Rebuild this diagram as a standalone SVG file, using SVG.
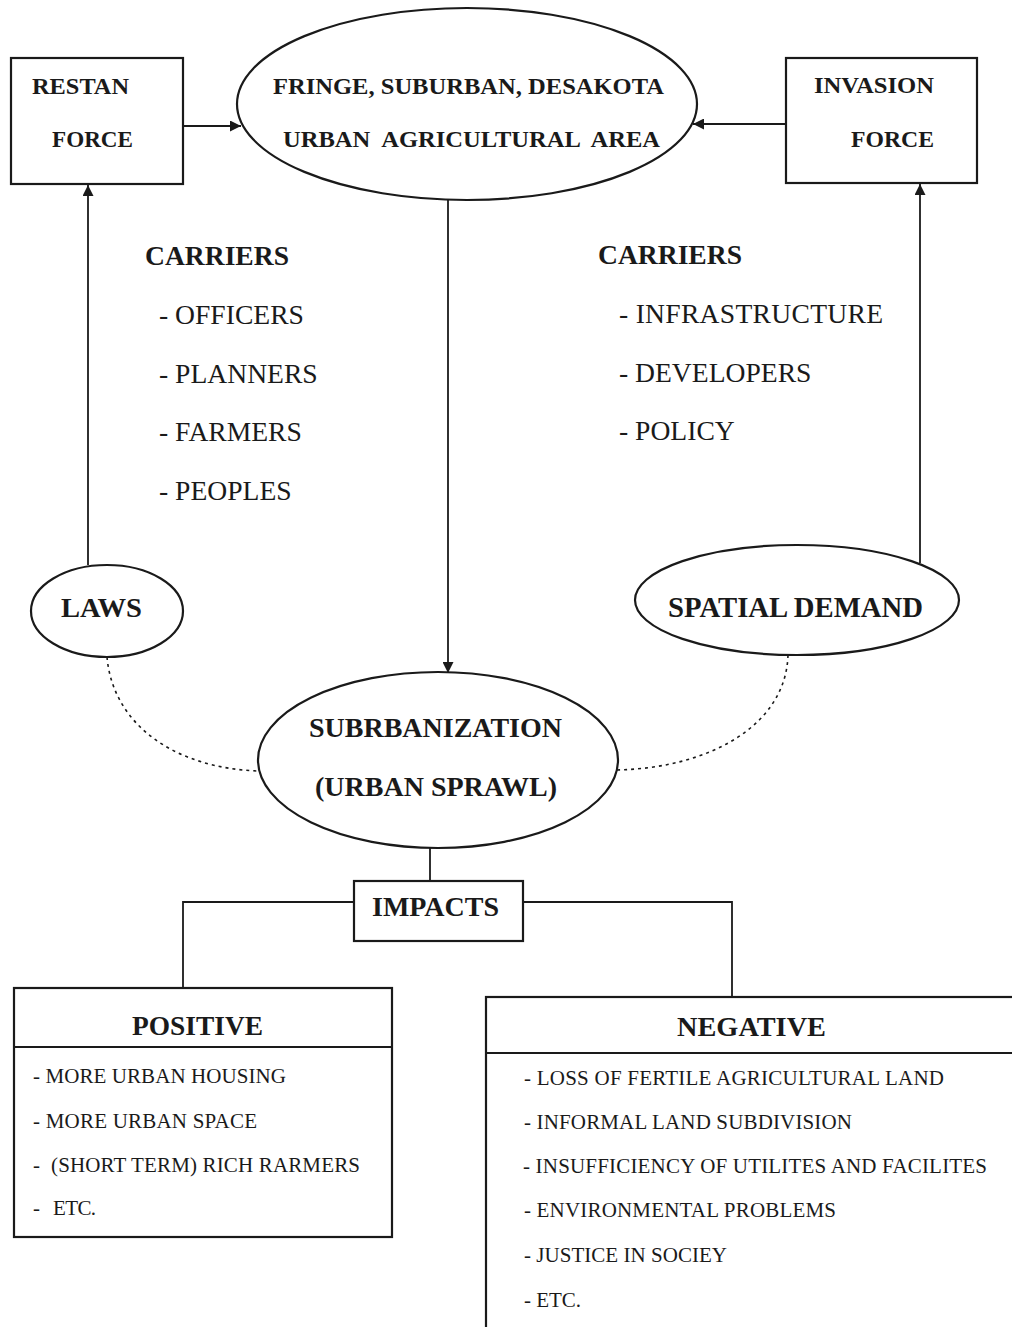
<svg xmlns="http://www.w3.org/2000/svg" width="1012" height="1327" viewBox="0 0 1012 1327">
<defs>
<style>
.shape{fill:#fff;stroke:#1a1a1a;stroke-width:2.2}
.ln{fill:none;stroke:#1a1a1a;stroke-width:1.8}
.dot{fill:none;stroke:#1a1a1a;stroke-width:1.6;stroke-dasharray:3 4}
.b{font-family:"Liberation Serif","Times New Roman",serif;font-weight:bold;fill:#1a1a1a}
.r{font-family:"Liberation Serif","Times New Roman",serif;fill:#1a1a1a}
</style>
<marker id="ah" viewBox="0 0 10 10" refX="10" refY="5" markerWidth="14" markerHeight="11" markerUnits="userSpaceOnUse" orient="auto">
<path d="M0,0 L10,5 L0,10 Z" fill="#1a1a1a"/>
</marker>
</defs>
<rect width="1012" height="1327" fill="#fff"/>

<g id="connectors">
<line class="ln" x1="183" y1="126" x2="241" y2="126" marker-end="url(#ah)"/>
<line class="ln" x1="786" y1="124" x2="693" y2="124" marker-end="url(#ah)"/>
<line class="ln" x1="88" y1="565" x2="88" y2="185" marker-end="url(#ah)"/>
<line class="ln" x1="920" y1="563" x2="920" y2="184" marker-end="url(#ah)"/>
<line class="ln" x1="448" y1="200" x2="448" y2="673" marker-end="url(#ah)"/>
<path class="dot" d="M107,657 C113,725 175,768 258,771"/>
<path class="dot" d="M788,655 C786,725 710,768 617,770"/>
<line class="ln" x1="430" y1="848" x2="430" y2="881"/>
<polyline class="ln" points="354,902 183,902 183,996"/>
<polyline class="ln" points="523,902 732,902 732,1000"/>
</g>

<g id="restan">
<rect class="shape" x="11" y="58" width="172" height="126"/>
<text class="b" x="32" y="94" font-size="24" textLength="97" lengthAdjust="spacingAndGlyphs">RESTAN</text>
<text class="b" x="52" y="147" font-size="24" textLength="81" lengthAdjust="spacingAndGlyphs">FORCE</text>
</g>

<g id="fringe">
<ellipse class="shape" cx="467" cy="104" rx="230" ry="96"/>
<text class="b" x="273" y="94" font-size="24" textLength="391" lengthAdjust="spacingAndGlyphs">FRINGE, SUBURBAN, DESAKOTA</text>
<text class="b" x="283" y="147" font-size="24" textLength="377" lengthAdjust="spacingAndGlyphs" xml:space="preserve">URBAN  AGRICULTURAL  AREA</text>
</g>

<g id="invasion">
<rect class="shape" x="786" y="58" width="191" height="125"/>
<text class="b" x="814" y="93" font-size="24" textLength="120" lengthAdjust="spacingAndGlyphs">INVASION</text>
<text class="b" x="851" y="147" font-size="24" textLength="83" lengthAdjust="spacingAndGlyphs">FORCE</text>
</g>

<g id="carriers-left">
<text class="b" x="145" y="265" font-size="27.6" textLength="144" lengthAdjust="spacingAndGlyphs">CARRIERS</text>
<text class="r" x="159" y="324" font-size="27.6">- OFFICERS</text>
<text class="r" x="159" y="383" font-size="27.6">- PLANNERS</text>
<text class="r" x="159" y="441" font-size="27.6">- FARMERS</text>
<text class="r" x="159" y="500" font-size="27.6">- PEOPLES</text>
</g>

<g id="carriers-right">
<text class="b" x="598" y="264" font-size="27.6" textLength="144" lengthAdjust="spacingAndGlyphs">CARRIERS</text>
<text class="r" x="619" y="323" font-size="27.6" textLength="264">- INFRASTRUCTURE</text>
<text class="r" x="619" y="382" font-size="27.6">- DEVELOPERS</text>
<text class="r" x="619" y="440" font-size="27.6">- POLICY</text>
</g>

<g id="laws">
<ellipse class="shape" cx="107" cy="611" rx="76" ry="46"/>
<text class="b" x="61" y="617" font-size="28" textLength="81" lengthAdjust="spacingAndGlyphs">LAWS</text>
</g>

<g id="spatial-demand">
<ellipse class="shape" cx="797" cy="600" rx="162" ry="55"/>
<text class="b" x="668" y="617" font-size="28.5" textLength="255" lengthAdjust="spacingAndGlyphs">SPATIAL DEMAND</text>
</g>

<g id="suburbanization">
<ellipse class="shape" cx="438" cy="760" rx="180" ry="88"/>
<text class="b" x="309" y="737" font-size="28" textLength="253" lengthAdjust="spacingAndGlyphs">SUBRBANIZATION</text>
<text class="b" x="315" y="796" font-size="28" textLength="242" lengthAdjust="spacingAndGlyphs">(URBAN SPRAWL)</text>
</g>

<g id="impacts">
<rect class="shape" x="354" y="881" width="169" height="60"/>
<text class="b" x="372" y="916" font-size="28" textLength="127" lengthAdjust="spacingAndGlyphs">IMPACTS</text>
</g>

<g id="positive">
<rect class="shape" x="14" y="988" width="378" height="249"/>
<line class="ln" x1="14" y1="1047" x2="392" y2="1047" stroke-width="2.4"/>
<text class="b" x="132" y="1035" font-size="28" textLength="131" lengthAdjust="spacingAndGlyphs">POSITIVE</text>
<text class="r" x="33" y="1083" font-size="21" textLength="253">- MORE URBAN HOUSING</text>
<text class="r" x="33" y="1128" font-size="21" textLength="224">- MORE URBAN SPACE</text>
<text class="r" x="33" y="1172" font-size="21">-</text>
<text class="r" x="51" y="1172" font-size="21" textLength="309">(SHORT TERM) RICH RARMERS</text>
<text class="r" x="33" y="1215" font-size="21">-</text>
<text class="r" x="53" y="1215" font-size="21" textLength="43">ETC.</text>
</g>

<g id="negative">
<rect class="shape" x="486" y="997" width="540" height="400"/>
<line class="ln" x1="486" y1="1053" x2="1012" y2="1053" stroke-width="2.4"/>
<text class="b" x="677" y="1036" font-size="28" textLength="149" lengthAdjust="spacingAndGlyphs">NEGATIVE</text>
<text class="r" x="524" y="1085" font-size="21" textLength="420">- LOSS OF FERTILE AGRICULTURAL LAND</text>
<text class="r" x="524" y="1129" font-size="21" textLength="328">- INFORMAL LAND SUBDIVISION</text>
<text class="r" x="523" y="1173" font-size="21" textLength="464">- INSUFFICIENCY OF UTILITES AND FACILITES</text>
<text class="r" x="524" y="1217" font-size="21" textLength="312">- ENVIRONMENTAL PROBLEMS</text>
<text class="r" x="524" y="1262" font-size="21" textLength="203">- JUSTICE IN SOCIEY</text>
<text class="r" x="524" y="1307" font-size="21" textLength="57">- ETC.</text>
</g>
</svg>
